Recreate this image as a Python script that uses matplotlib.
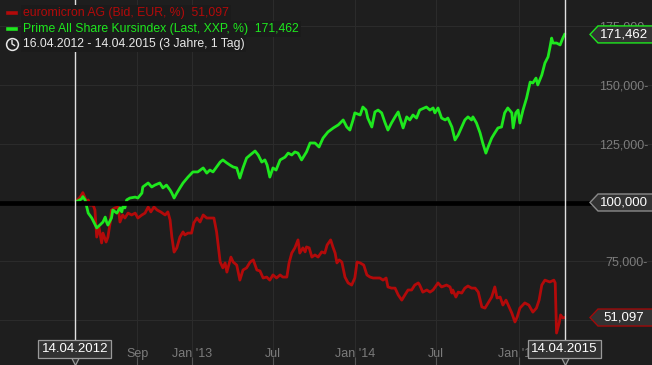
import numpy as np
import pandas as pd
import matplotlib
matplotlib.use("Agg")
import matplotlib.pyplot as plt
import matplotlib.transforms as mtransforms
from matplotlib.lines import Line2D
from matplotlib.patches import Polygon

# ---------------- data ----------------
start_date = "2012-04-14"
end_date = "2015-04-14"

green_days = [0, 15, 18, 23, 30, 38, 49, 56, 63, 68, 71, 74, 82, 85, 94, 101, 105, 108, 112, 116,
              123, 135, 141, 150, 152, 164, 172, 179, 190, 197, 205, 213, 217, 222, 228, 235, 242,
              253, 264, 275, 287, 295, 302, 309, 317, 325, 331, 340, 347, 354, 362, 369, 376, 384,
              392, 403, 410, 418, 425, 430, 436, 443, 450, 459, 470, 477, 485, 492, 499, 507, 518,
              526, 537, 546, 555, 566, 578, 589, 600, 608, 615, 622, 626, 638, 644, 651, 655, 664,
              671, 678, 686, 693, 700, 708, 716, 723, 727, 734, 742, 749, 756, 764, 771, 786, 794,
              801, 805, 812, 820, 828, 834, 843, 850, 857, 865, 872, 879, 887, 890, 898, 906, 912,
              919, 924, 932, 939, 946, 954, 961, 968, 977, 980, 986, 991, 995, 1002, 1010, 1018,
              1024, 1031, 1035, 1044, 1051, 1058, 1062, 1066, 1069, 1077, 1085, 1091, 1095]
green_vals = [100.0, 101.5, 102.5, 101.1, 95.5, 93.4, 89.2, 90.4, 91.7, 93.8, 91.7, 90.4, 93.4, 96.8,
              95.5, 97.7, 96.0, 98.5, 97.7, 101.1, 101.9, 102.3, 101.9, 104.0, 106.6, 108.3, 106.6,
              107.4, 108.3, 106.2, 107.4, 105.3, 104.0, 101.9, 104.0, 106.2, 108.3, 110.8, 113.0,
              113.0, 114.7, 112.5, 113.8, 113.0, 115.1, 117.2, 118.1, 116.8, 115.9, 115.1, 114.7,
              110.4, 114.7, 118.9, 120.2, 121.9, 120.2, 117.2, 118.1, 115.9, 110.8, 114.7, 113.8,
              118.1, 119.3, 121.0, 120.2, 121.5, 121.0, 118.1, 121.5, 125.3, 125.3, 123.6, 127.4,
              130.0, 131.7, 133.0, 135.1, 132.1, 130.8, 135.1, 138.1, 137.2, 140.6, 139.3, 135.9,
              132.1, 138.5, 139.3, 138.1, 134.2, 130.8, 133.8, 136.4, 138.5, 135.9, 131.7, 136.4,
              135.1, 137.2, 135.9, 139.3, 140.6, 139.3, 140.2, 138.1, 140.2, 135.9, 135.1, 135.9,
              132.1, 126.6, 128.7, 132.1, 135.1, 136.4, 135.1, 136.4, 133.8, 129.6, 125.3, 121.0,
              123.6, 127.4, 129.6, 131.7, 132.1, 138.1, 140.2, 138.1, 131.7, 138.1, 139.3, 133.8,
              139.3, 144.4, 151.2, 150.8, 152.9, 150.0, 154.2, 159.3, 161.9, 165.7, 169.9, 167.8,
              167.8, 167.0, 169.9, 171.462]

red_days = [0, 12, 18, 23, 27, 30, 34, 41, 45, 49, 54, 60, 63, 70, 74, 79, 82, 90, 97, 101, 107,
            112, 119, 127, 135, 141, 150, 157, 164, 170, 177, 184, 192, 202, 208, 213, 217, 222,
            228, 235, 242, 246, 253, 261, 266, 273, 280, 287, 295, 302, 311, 317, 325, 331, 336,
            340, 349, 354, 362, 369, 376, 384, 392, 399, 407, 414, 421, 429, 436, 443, 451, 459,
            465, 474, 479, 485, 492, 499, 503, 510, 515, 518, 524, 530, 537, 544, 552, 559, 564,
            572, 577, 582, 586, 591, 597, 604, 611, 619, 626, 631, 638, 646, 653, 660, 667, 675,
            682, 689, 696, 700, 708, 716, 723, 731, 738, 745, 753, 760, 768, 771, 778, 787, 794,
            801, 812, 820, 831, 839, 843, 845, 852, 857, 865, 872, 879, 887, 895, 902, 910, 917,
            924, 932, 939, 944, 951, 957, 964, 969, 977, 984, 989, 995, 1006, 1015, 1024, 1032,
            1038, 1044, 1051, 1062, 1071, 1074, 1077, 1083, 1086, 1091, 1095]
red_vals = [100.0, 102.3, 104.2, 101.9, 99.8, 101.1, 98.9, 98.9, 96.8, 85.3, 89.6, 82.8, 87.0, 83.2,
            85.3, 91.3, 96.8, 97.7, 98.1, 91.7, 94.7, 93.4, 95.5, 94.7, 95.5, 93.4, 94.7, 95.5, 98.1,
            96.0, 98.1, 96.8, 96.0, 94.7, 96.0, 92.6, 85.3, 78.9, 80.7, 85.3, 87.5, 86.2, 87.0, 87.0,
            91.3, 93.4, 91.7, 94.7, 93.4, 93.4, 93.4, 87.5, 74.7, 72.2, 74.3, 70.4, 76.8, 74.7, 73.4,
            67.0, 71.3, 72.2, 74.7, 75.6, 71.3, 70.9, 67.9, 68.3, 67.0, 69.2, 67.9, 69.2, 68.3, 68.3,
            74.3, 78.5, 80.7, 84.1, 78.5, 80.7, 79.0, 81.1, 80.7, 76.8, 77.7, 76.8, 79.0, 78.5, 81.9,
            84.1, 81.1, 78.5, 74.3, 75.6, 74.7, 68.3, 65.8, 64.9, 67.9, 74.7, 74.3, 73.4, 69.2, 68.3,
            67.9, 67.9, 67.9, 67.0, 67.9, 64.1, 63.6, 63.6, 60.7, 58.5, 60.7, 62.8, 62.8, 64.9, 65.8,
            64.9, 61.9, 62.8, 61.9, 62.8, 65.8, 64.1, 64.9, 64.1, 61.5, 62.8, 59.8, 61.9, 61.5, 63.6,
            64.5, 63.6, 63.6, 61.9, 55.6, 55.1, 57.3, 59.8, 64.1, 59.4, 59.8, 56.4, 58.5, 56.4, 53.0,
            49.2, 51.3, 55.1, 57.3, 56.4, 53.4, 55.1, 58.5, 64.9, 67.0, 66.2, 67.0, 65.8, 44.5, 48.8,
            52.2, 50.9, 51.097]

y_ticks = [50, 75, 100, 125, 150, 175]
y_tick_labels = ["", "75,000-", "", "125,000-", "150,000-", "175,000-"]
x_tick_dates = ["2012-09-01", "2013-01-01", "2013-07-01", "2014-01-01", "2014-07-01", "2015-01-01"]
x_tick_labels = ["Sep", "Jan '13", "Jul", "Jan '14", "Jul", "Jan '15"]

red_name = "euromicron AG (Bid, EUR, %)"
green_name = "Prime All Share Kursindex (Last, XXP, %)"
period_text = "16.04.2012 - 14.04.2015 (3 Jahre, 1 Tag)"
baseline = 100.0

# ---------------- style ----------------
plt.rcParams["font.family"] = ["Liberation Sans", "DejaVu Sans"]

BG = "#1e1e1e"
GRID = "#2b2b2b"
RED = "#b30a0a"
GREEN = "#1ee81e"
TICKC = "#7c7c7c"


def fmt(v):
    return f"{v:.3f}".replace(".", ",")


W, H = 652, 365
fig = plt.figure(figsize=(W / 100, H / 100), dpi=100, facecolor=BG)
ax = fig.add_axes([0, 0, 1, 1], facecolor=BG)
for s in ax.spines.values():
    s.set_visible(False)

t0 = pd.Timestamp(start_date)
t1 = pd.Timestamp(end_date)
gx = t0 + pd.to_timedelta(green_days, unit="D")
rx = t0 + pd.to_timedelta(red_days, unit="D")

# axis scale (pixels -> data)
px_per_day = 489.8 / (t1 - t0).days
x_left = t0 - pd.Timedelta(days=74.8 / px_per_day)
x_right = t0 + pd.Timedelta(days=(W - 74.8) / px_per_day)
px_per_unit = 58.8 / 25.0
y_top = 100 + 202.5 / px_per_unit
y_bot = 100 - (H - 202.5) / px_per_unit
ax.set_xlim(x_left, x_right)
ax.set_ylim(y_bot, y_top)

# grid
for d in x_tick_dates:
    ax.axvline(pd.Timestamp(d), color=GRID, lw=0.8, zorder=0)
for v in y_ticks:
    ax.axhline(v, color=GRID, lw=0.8, zorder=0)

# lines
ax.plot(rx, red_vals, color=RED, lw=2.0, zorder=3, solid_joinstyle="round")
ax.plot(gx, green_vals, color=GREEN, lw=2.0, zorder=4, solid_joinstyle="round")
ax.axhline(baseline, xmin=0, xmax=592 / W, color="black", lw=3.4, zorder=5)

# start / end vertical lines
ax.axvline(t0, ymin=(H - 341) / H, ymax=1, color="#e0e0e0", lw=1.0, zorder=6)
ax.axvline(t1, ymin=(H - 341) / H, ymax=1, color="#e0e0e0", lw=1.0, zorder=6)

# y tick labels (right, inside)
ax.yaxis.tick_right()
ax.set_yticks(y_ticks)
ax.set_yticklabels(y_tick_labels)
ax.tick_params(axis="y", length=0, pad=-3, labelsize=9, labelcolor=TICKC)
for lab in ax.get_yticklabels():
    lab.set_horizontalalignment("right")

# x ticks (bottom, inside)
ax.set_xticks([pd.Timestamp(d) for d in x_tick_dates])
ax.set_xticklabels(x_tick_labels)
ax.tick_params(axis="x", direction="in", length=6, width=0.8, color="#555555",
               pad=-12, labelsize=9, labelcolor=TICKC)

# right-side value tags
blend_y = mtransforms.blended_transform_factory(ax.transAxes, ax.transData)


def value_tag(val, text, edge):
    trans = mtransforms.Affine2D() + mtransforms.ScaledTranslation(590 / W, val, blend_y)
    verts = [(0, 0), (8, 8.5), (64, 8.5), (64, -8.5), (8, -8.5)]
    ax.add_patch(Polygon(verts, closed=True, transform=trans, facecolor="#323232",
                         edgecolor=edge, lw=1.0, zorder=20, clip_on=False))
    ax.text(624 / W, val, text, transform=blend_y, ha="center", va="center",
            color="white", fontsize=9.5, zorder=21)


value_tag(green_vals[-1], fmt(green_vals[-1]), GREEN)
value_tag(baseline, fmt(baseline), "#8a8a8a")
value_tag(red_vals[-1], fmt(red_vals[-1]), "#a00a0a")

# bottom date boxes
blend_x = mtransforms.blended_transform_factory(ax.transData, ax.transAxes)
for d in (t0, t1):
    ax.plot([d], [(H - 360) / H], marker="v", ms=7, mfc="#323232", mec="#9a9a9a", mew=0.9,
            transform=blend_x, zorder=22, clip_on=False)
    ax.text(d, (H - 349) / H, d.strftime("%d.%m.%Y"), transform=blend_x, ha="center", va="center",
            color="white", fontsize=9.5, zorder=23,
            bbox=dict(boxstyle="square,pad=0.25", fc="#323232", ec="#9a9a9a", lw=0.9))


# legend (top-left)
def fx(px):
    return px / W


def fy(py):
    return 1 - py / H


LEG_FS = 8.8
rows = [(13, RED, f"{red_name}  {fmt(red_vals[-1])}"),
        (29, GREEN, f"{green_name}  {fmt(green_vals[-1])}")]
for py, col, txt in rows:
    fig.add_artist(Line2D([fx(8), fx(16)], [fy(py), fy(py)], color=col, lw=2.6,
                          transform=fig.transFigure))
    fig.text(fx(23), fy(py), txt, color=col, fontsize=LEG_FS, ha="left", va="center",
             bbox=dict(boxstyle="square,pad=0.15", fc="#1b1b1b", ec="none"))

# clock icon
fig.add_artist(Line2D([fx(12)], [fy(44)], marker="o", ms=8.5, mfc="none", mec="#e8e8e8", mew=1.1,
                      transform=fig.transFigure))
fig.add_artist(Line2D([fx(12), fx(12), fx(14.5)], [fy(40.5), fy(44), fy(45.5)], color="#e8e8e8",
                      lw=1.0, transform=fig.transFigure))
fig.text(fx(23), fy(44), period_text, color="#e8e8e8", fontsize=LEG_FS, ha="left", va="center",
         bbox=dict(boxstyle="square,pad=0.15", fc="#1b1b1b", ec="none"))

fig.savefig("out.png", dpi=100, facecolor=BG)
